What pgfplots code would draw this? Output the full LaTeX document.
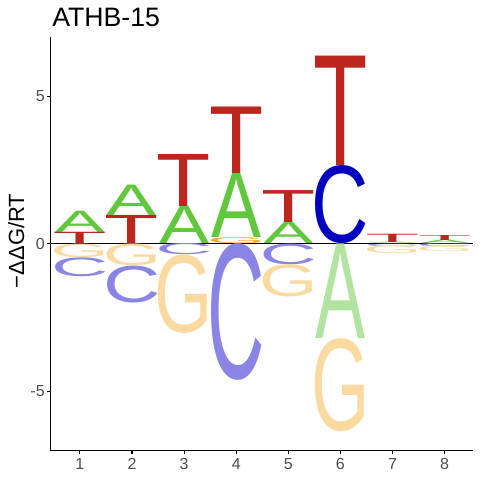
\documentclass[border=0pt]{standalone}
\usepackage{pgfplots}
\pgfplotsset{compat=1.18}
\usepackage{pgfplotstable}
\usepackage{graphicx}
\usepackage{fontspec}
\setmainfont{Liberation Sans}
\newlength\xunit \setlength\xunit{39.087pt}
\newlength\yunit \setlength\yunit{22.164pt}
\definecolor{cA}{RGB}{97,200,62}
\definecolor{cT}{RGB}{187,39,30}
\definecolor{cC}{RGB}{0,0,192}
\definecolor{cG}{RGB}{240,165,45}
\definecolor{lA}{RGB}{178,227,160}
\definecolor{lC}{RGB}{138,132,228}
\definecolor{lG}{RGB}{250,218,160}
\definecolor{tickgray}{RGB}{77,77,77}

% columns: x = position, y = bottom of the letter, h = letter height
\pgfplotstableread{
x y h
1 0.38 0.72
2 0.95 1.03
3 0 1.27
4 0.20 2.18
5 0 0.73
7 0 0.05
8 0 0.12
}\tabApos
\pgfplotstableread{
x y h
1 0 0.38
2 0 0.95
3 1.27 1.76
4 2.38 2.25
5 0.73 1.08
6 2.64 3.70
7 0.05 0.28
8 0.12 0.17
}\tabTpos
\pgfplotstableread{
x y h
6 0 2.64
}\tabCpos
\pgfplotstableread{
x y h
4 0 0.20
}\tabGpos
\pgfplotstableread{
x y h
1 -1.10 0.64
2 -1.99 1.25
3 -0.38 0.38
4 -4.63 4.63
5 -0.70 0.70
7 -0.08 0.08
8 -0.10 0.10
}\tabCneg
\pgfplotstableread{
x y h
1 -0.46 0.46
2 -0.74 0.74
3 -3.04 2.66
5 -1.81 1.09
6 -6.35 3.15
7 -0.34 0.26
8 -0.27 0.17
}\tabGneg
\pgfplotstableread{
x y h
6 -3.20 3.20
}\tabAneg

\newcommand\letterplot[4]{%
  \addplot[scatter, only marks, mark=*, mark size=0.1pt,
    mark options={draw opacity=0, fill opacity=0},
    point meta=explicit symbolic,
    scatter/@pre marker code/.code={%
      \node[anchor=south, inner sep=0pt, outer sep=0pt, opacity=1,
        fill opacity=1, text opacity=1, text=#3] at (0pt,0pt)
        {\resizebox*{#2\xunit}{\pgfplotspointmeta\yunit}{#1}};},
    scatter/@post marker code/.code={}]
    table[x=x, y=y, meta=h]{#4};}

\begin{document}
\begin{tikzpicture}
\path[use as bounding box] (0,0) rectangle (360pt,360pt);
\begin{axis}[
  at={(38pt,22pt)}, anchor=south west,
  x=\xunit, y=\yunit,
  xmin=0.44, xmax=8.55, ymin=-7, ymax=7,
  axis x line*=bottom, axis y line*=left,
  axis line style={-, line width=0.8pt, black},
  xtick={1,2,3,4,5,6,7,8}, ytick={-5,0,5},
  tick align=outside, major tick length=2.5pt,
  tick style={line width=0.8pt, black},
  /pgf/number format/assume math mode=true,
  tick label style={font=\fontsize{12}{14}\selectfont, text=tickgray},
  yticklabel style={inner sep=1.8pt},
  title={ATHB-15},
  every axis title/.style={at={(axis description cs:0,1)}, anchor=base west,
    xshift=1pt, yshift=7.7pt, inner sep=0pt,
    font=\fontsize{20}{24}\selectfont},
  ylabel={−ΔΔG/RT},
  ylabel style={at={(axis description cs:-0.063,0.507)}, anchor=base,
    inner sep=0pt, font=\fontsize{16.5}{19}\selectfont},
  clip=false,
]
\letterplot{A}{0.96}{cA}{\tabApos}
\letterplot{T}{1.04}{cT}{\tabTpos}
\letterplot{C}{1.10}{cC}{\tabCpos}
\letterplot{G}{1.12}{cG}{\tabGpos}
\letterplot{C}{1.10}{lC}{\tabCneg}
\letterplot{G}{1.12}{lG}{\tabGneg}
\letterplot{A}{0.96}{lA}{\tabAneg}
\addplot[black, line width=0.6pt] coordinates {(0.44,0) (8.55,0)};
\end{axis}
\end{tikzpicture}
\end{document}
